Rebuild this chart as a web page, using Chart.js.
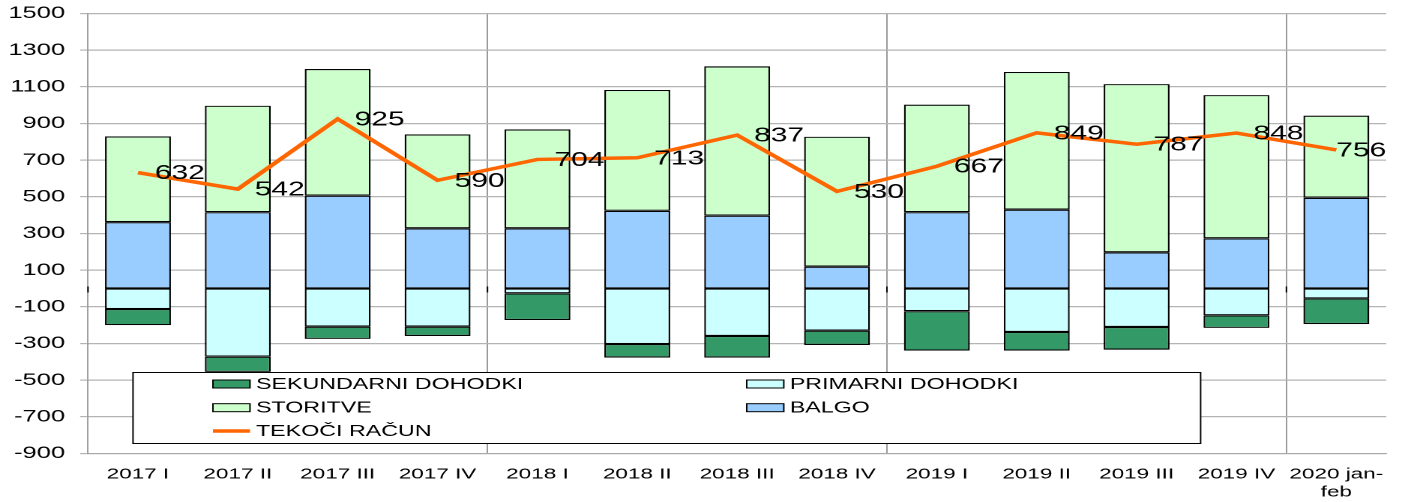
<!DOCTYPE html>
<html><head><meta charset="utf-8">
<script src="https://cdn.jsdelivr.net/npm/chart.js@4/dist/chart.umd.min.js"></script>
<style>
html,body{margin:0;padding:0;background:#fff;overflow:hidden;width:1402px;height:502px}
#wrap{position:absolute;left:0;top:0;width:935px;height:502px;transform:scaleX(1.49947);transform-origin:0 0}
</style></head><body>
<div id="wrap"><canvas id="c" width="935" height="502"></canvas></div>
<script>
const categories = ['2017 I','2017 II','2017 III','2017 IV','2018 I','2018 II','2018 III','2018 IV','2019 I','2019 II','2019 III','2019 IV',['2020 jan-','feb']];
const balgo      = [362, 416, 506, 328, 328, 424, 397, 119, 416, 430, 197, 274, 495];
const storitve   = [468, 581, 691, 513, 540, 659, 815, 709, 587, 751, 918, 781, 448];
const primarni   = [-112, -372, -208, -208, -26, -303, -259, -230, -124, -237, -210, -146, -54];
const sekundarni = [-88, -83, -67, -51, -146, -74, -118, -78, -215, -102, -124, -69, -140];
const tekociRacun = [632, 542, 925, 590, 704, 713, 837, 530, 667, 849, 787, 848, 756];
const seriesNames = {tr:'TEKOČI RAČUN', balgo:'BALGO', stor:'STORITVE', prim:'PRIMARNI DOHODKI', sek:'SEKUNDARNI DOHODKI'};
const legendOrder = [seriesNames.sek, seriesNames.prim, seriesNames.stor, seriesNames.balgo, seriesNames.tr];
const yearSeparators = [0, 4, 8, 12];

const FONT = '"Liberation Sans", Arial, sans-serif';

const labelPlugin = {
  id: 'trLabels',
  afterDatasetsDraw(chart) {
    const meta = chart.getDatasetMeta(0);
    const c = chart.ctx, area = chart.chartArea;
    c.save();
    c.font = '20px ' + FONT;
    c.fillStyle = '#000';
    c.textBaseline = 'middle';
    c.textAlign = 'left';
    meta.data.forEach((pt, i) => {
      const t = String(chart.data.datasets[0].data[i]);
      const w = c.measureText(t).width;
      const x = Math.min(pt.x + 11.3, area.right - w);
      c.fillText(t, x, pt.y + 1);
    });
    const zy = chart.scales.y.getPixelForValue(0);
    const xs = chart.scales.x;
    c.strokeStyle = '#000'; c.lineWidth = 1;
    yearSeparators.forEach(i => {
      const x = xs.getPixelForValue(i) - (xs.getPixelForValue(1) - xs.getPixelForValue(0)) / 2;
      c.beginPath(); c.moveTo(x, zy - 2); c.lineTo(x, zy + 4); c.stroke();
    });
    c.restore();
  }
};

const legendPlugin = {
  id: 'boxLegend',
  afterDraw(chart) {
    const c = chart.ctx;
    const bx = 88.7, by = 372.5, bw = 712, bh = 71;
    c.save();
    c.fillStyle = '#fff';
    c.fillRect(bx, by, bw, bh);
    c.strokeStyle = '#000'; c.lineWidth = 1;
    c.strokeRect(bx, by, bw, bh);
    const colX = [142, 498], rowY = [384, 407.7, 431];
    c.font = '15.5px ' + FONT;
    c.textBaseline = 'middle';
    c.textAlign = 'left';
    legendOrder.forEach((name, i) => {
      const ds = chart.data.datasets.find(d => d.label === name);
      const x = colX[i % 2], y = rowY[Math.floor(i / 2)];
      if (ds.type === 'line') {
        c.strokeStyle = ds.borderColor; c.lineWidth = 3.5;
        c.beginPath(); c.moveTo(x, y); c.lineTo(x + 24.7, y); c.stroke();
      } else {
        c.fillStyle = ds.backgroundColor;
        c.fillRect(x, y - 4, 24.7, 8);
        c.strokeStyle = '#000'; c.lineWidth = 1;
        c.strokeRect(x, y - 4, 24.7, 8);
      }
      c.fillStyle = '#000';
      c.fillText(name, x + 28.7, y + 0.5);
    });
    c.restore();
  }
};

const barCommon = {type: 'bar', borderColor: '#000', borderWidth: 1.2, borderSkipped: false,
  barPercentage: 0.66, categoryPercentage: 1, order: 1, stack: 's'};

new Chart(document.getElementById('c'), {
  data: {
    labels: categories,
    datasets: [
      {type: 'line', label: seriesNames.tr, data: tekociRacun, borderColor: '#FF6600', backgroundColor: '#FF6600',
       borderWidth: 3.5, pointRadius: 0, tension: 0, order: 0, stack: 'tr'},
      Object.assign({label: seriesNames.balgo, data: balgo, backgroundColor: '#99CCFF'}, barCommon),
      Object.assign({label: seriesNames.stor, data: storitve, backgroundColor: '#CCFFCC'}, barCommon),
      Object.assign({label: seriesNames.prim, data: primarni, backgroundColor: '#CCFFFF'}, barCommon),
      Object.assign({label: seriesNames.sek, data: sekundarni, backgroundColor: '#339966'}, barCommon)
    ]
  },
  options: {
    responsive: false, animation: false, devicePixelRatio: 2,
    layout: {padding: {left: 0, right: 10.5, top: 13.5, bottom: 0}},
    plugins: {legend: {display: false}, tooltip: {enabled: false}},
    scales: {
      x: {
        stacked: true, offset: true,
        grid: {offset: true, drawTicks: false, lineWidth: 1,
          color: ctx => yearSeparators.includes(ctx.index) ? '#999999' : 'rgba(0,0,0,0)'},
        border: {color: '#a8a8a8'},
        ticks: {color: '#000', font: {family: FONT, size: 15}, padding: 12, maxRotation: 0, autoSkip: false},
        afterFit: s => { s.height = 48.5; s.paddingLeft = 0; s.paddingRight = 0; }
      },
      y: {
        stacked: true, min: -900, max: 1500,
        ticks: {stepSize: 200, color: '#000', font: {family: FONT, size: 17}, padding: 10, callback: v => String(v)},
        grid: {tickLength: 5.3, lineWidth: 1.2,
          color: ctx => (ctx.tick && ctx.tick.value === 0) ? '#000' : '#b4b4b4'},
        border: {color: '#a0a0a0'},
        afterFit: s => { s.width = 58.7; s.paddingTop = 0; s.paddingBottom = 0; }
      }
    }
  },
  plugins: [labelPlugin, legendPlugin]
});
</script>
</body></html>
